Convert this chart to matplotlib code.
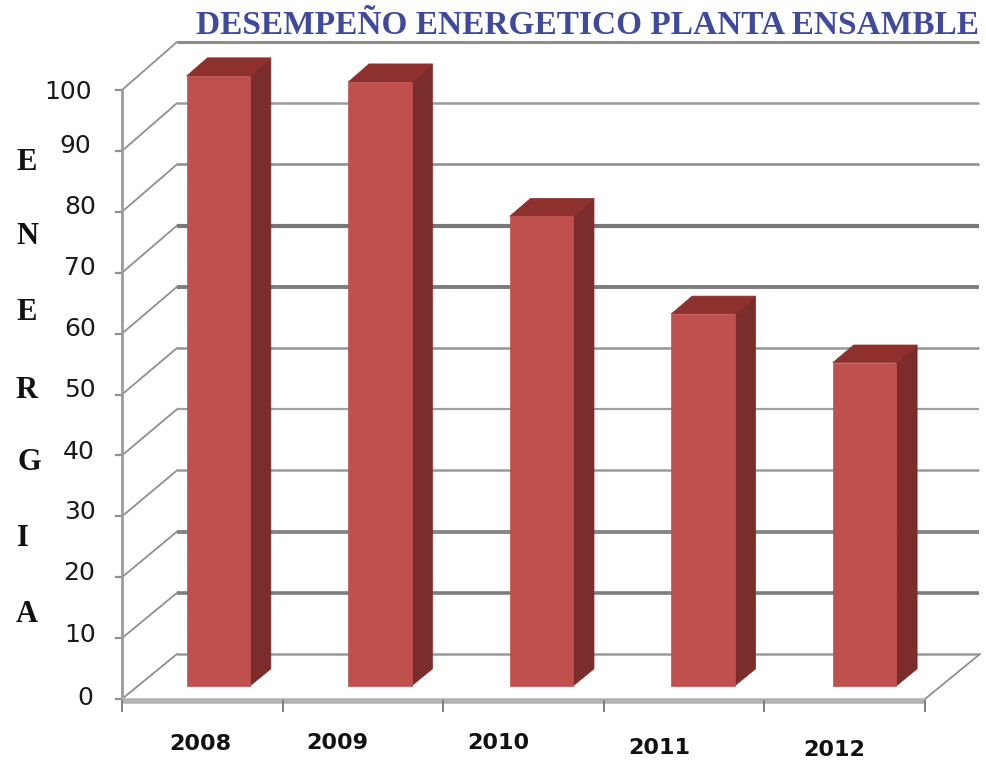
import numpy as np
import matplotlib
matplotlib.use('Agg')
import matplotlib.pyplot as plt
from matplotlib.patches import Polygon

# datos
years = ['2008', '2009', '2010', '2011', '2012']
energy = [100, 99, 77, 61, 53]
y_ticks = [0, 10, 20, 30, 40, 50, 60, 70, 80, 90, 100]
y_axis_word = list('ENERGIA')
title = 'DESEMPEÑO ENERGETICO PLANTA ENSAMBLE'

W, H = 986, 767
fig = plt.figure(figsize=(W / 100, H / 100), dpi=100)
ax = fig.add_axes([0, 0, 1, 1])

# escala: una categoria = 160.6 px, una unidad de energia = 6.09 px
cat_px = 160.6
val_px = 6.09
ax.set_xlim(-122 / cat_px, (W - 122) / cat_px)
ax.set_ylim(-(H - 699) / val_px, 699 / val_px)
ax.axis('off')

# desplazamiento oblicuo del fondo del grafico
DX = 55 / cat_px
DY = 45 / val_px


def project(x, y, d):
    # el fondo queda un poco mas alto que el frente
    return x + d * DX, y + d * (DY + 0.005 * y)


n = len(years)

# rejilla del fondo y lineas diagonales de la pared y del piso
grid_styles = {0: (1.8, '#9a9a9a'), 10: (2.6, '#7d7d7d'), 20: (2.8, '#868686'),
               30: (1.8, '#9a9a9a'), 40: (1.6, '#a0a0a0'), 50: (1.8, '#959595'),
               60: (2.8, '#7c7c7c'), 70: (3.0, '#787878'), 80: (2.0, '#969696'),
               90: (1.8, '#9a9a9a'), 100: (2.2, '#8c8c8c')}
x_end = 5 + 54 / cat_px
for v in y_ticks:
    lw, col = grid_styles[v]
    x0, y0 = project(0, v, 1)
    ax.plot([x0, x_end], [y0, y0], color=col, lw=lw, solid_capstyle='butt', zorder=1)
    x1, y1 = project(0, v, 0)
    ax.plot([x1, x0], [y1, y0], color='#8f8f8f', lw=1.3, zorder=1)
    # marca del eje vertical
    ax.plot([x1 - 6 / cat_px, x1], [y1, y1], color='#8f8f8f', lw=1.6, zorder=2)

xr, yr = project(5, 0, 1)
ax.plot([5, xr], [0, yr], color='#8f8f8f', lw=1.3, zorder=1)

# ejes frontales
ax.plot([0, 0], [0, 100], color='#9c9c9c', lw=2.0, zorder=2)
ax.plot([0, 5], [-0.3, -0.3], color='#b2b2b2', lw=4.0, solid_capstyle='butt', zorder=2)
for i in range(n + 1):
    ax.plot([i, i], [-0.3, -2.0], color='#7f7f7f', lw=1.4, zorder=2)

# barras con caras frontal, superior y lateral
bar_w = 0.395
bar_step = 1.006
d_front = 0.29
d_back = 0.67
for i, v in enumerate(energy):
    left = i * bar_step + 0.5 - bar_w / 2
    right = left + bar_w
    side = [project(right, 0, d_front), project(right, 0, d_back),
            project(right, v, d_back), project(right, v, d_front)]
    top = [project(left, v, d_front), project(right, v, d_front),
           project(right, v, d_back), project(left, v, d_back)]
    front = [project(left, 0, d_front), project(right, 0, d_front),
             project(right, v, d_front), project(left, v, d_front)]
    ax.add_patch(Polygon(side, closed=True, fc='#7a2d2b', ec='#7a2d2b', lw=0.5, zorder=3))
    ax.add_patch(Polygon(top, closed=True, fc='#8d302e', ec='#8d302e', lw=0.5, zorder=3))
    ax.add_patch(Polygon(front, closed=True, fc='#c0504d', ec='#c0504d', lw=0.5, zorder=4))


def label_px(x, y, s, **kw):
    fig.text(x / W, 1 - y / H, s, ha='center', va='center', **kw)


# titulo
label_px(587, 25, title, family='Liberation Serif', fontweight='bold',
         fontsize=24, color='#3f4a9c')

# etiquetas del eje vertical
tick_pos = [(85, 698), (80, 635), (79, 573), (80, 512), (79, 452), (80, 390),
            (80, 329), (80, 268), (80, 207), (75, 146), (68, 92)]
for v, (x, y) in zip(y_ticks, tick_pos):
    label_px(x, y, str(v), family='DejaVu Sans', fontsize=18, color='#1a1a1a')

# palabra ENERGIA en vertical
word_pos = [(27, 163), (27, 236), (27, 312), (27, 390), (29, 462), (23, 538), (27, 615)]
for ch, (x, y) in zip(y_axis_word, word_pos):
    label_px(x, y, ch, family='Liberation Serif', fontweight='bold', fontsize=22, color='#111111')

# etiquetas de los años
year_pos = [(200, 744), (337, 743), (498, 743), (659, 748), (834, 750)]
for yr_label, (x, y) in zip(years, year_pos):
    label_px(x, y, yr_label, family='DejaVu Sans', fontweight='bold', fontsize=16, color='#111111')

fig.savefig('out.png', dpi=100, facecolor='white')
